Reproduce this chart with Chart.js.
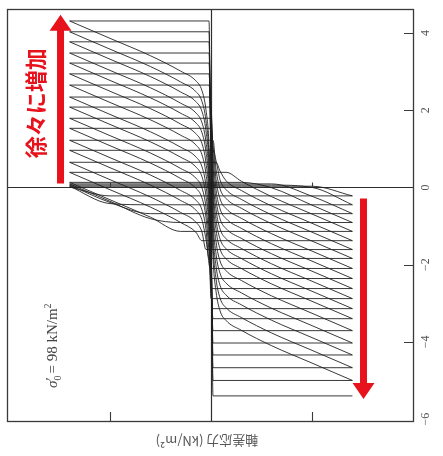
<!DOCTYPE html>
<html>
<head>
<meta charset="utf-8">
<script src="https://cdn.jsdelivr.net/npm/chart.js@4.4.1/dist/chart.umd.min.js"></script>
<style>
  html, body { margin: 0; padding: 0; background: #fff; }
</style>
</head>
<body>
<canvas id="c" width="443" height="456"></canvas>
<script>
// strain (%) at each stress reversal
const LEFT_PEAKS = [0.01, 0.03, 0.06, 0.09, 0.13, 0.39, 0.65, 0.96, 1.22, 1.53, 1.79, 2.08, 2.34, 2.65, 2.94, 3.22, 3.48, 3.77, 4.03, 4.31];
const RIGHT_PEAKS = [-0.22, -0.45, -0.68, -0.91, -1.14, -1.38, -1.61, -1.84, -2.1, -2.36, -2.62, -2.88, -3.14, -3.4, -3.71, -4.03, -4.34, -4.67, -5.0, -5.4];
const STRESS_AMP = 1.4;
// how far the strain has run after a reversal, vs distance travelled in stress
const SOFT_DQ = [0, 0.4, 0.8, 1.1, 1.25, 1.31, 1.35, 1.38, 1.40, 1.42];
const SOFT_DEPS = [0, 0.45, 0.9, 1.3, 1.55, 1.8, 2.3, 3.2, 5, 10];
const X_TICKS = [-1, 0, 1];
const Y_TICKS = [4, 2, 0, -2, -4, -6];

const LINE = 'rgba(30,30,30,0.88)';

function loadBranch(top, bottom) {
  const pts = SOFT_DQ.map((dq, k) => ({ x: -STRESS_AMP + dq, y: Math.max(top - SOFT_DEPS[k], bottom) }));
  pts.push({ x: STRESS_AMP, y: bottom });
  return pts;
}
function unloadBranch(bottom, top) {
  const pts = SOFT_DQ.map((dq, k) => ({ x: STRESS_AMP - dq, y: Math.min(bottom + SOFT_DEPS[k], top) }));
  pts.push({ x: -STRESS_AMP, y: top });
  return pts.reverse();
}

const datasets = [];
LEFT_PEAKS.forEach((a, i) => {
  const b = RIGHT_PEAKS[i];
  datasets.push({ data: loadBranch(a, b) });
  if (i + 1 < LEFT_PEAKS.length) datasets.push({ data: unloadBranch(b, LEFT_PEAKS[i + 1]) });
});
datasets.forEach(d => Object.assign(d, {
  borderColor: LINE, borderWidth: 1, pointRadius: 0, fill: false,
  cubicInterpolationMode: 'monotone'
}));

function fmt(v) { return v < 0 ? '\u2212' + Math.abs(v) : String(v); }

function arrow(ctx, x, y0, y1) {
  const dir = y1 < y0 ? -1 : 1;
  const head = 16, hw = 11, sw = 3.5;
  ctx.beginPath();
  ctx.moveTo(x - sw, y0);
  ctx.lineTo(x + sw, y0);
  ctx.lineTo(x + sw, y1 - dir * head);
  ctx.lineTo(x + hw, y1 - dir * head);
  ctx.lineTo(x, y1);
  ctx.lineTo(x - hw, y1 - dir * head);
  ctx.lineTo(x - sw, y1 - dir * head);
  ctx.closePath();
  ctx.fill();
}

const decor = {
  id: 'decor',
  beforeDatasetsDraw(chart) {
    const { ctx, chartArea: a, scales: { x, y } } = chart;
    const x0 = Math.round(x.getPixelForValue(0)) + 0.5;
    const y0 = Math.round(y.getPixelForValue(0)) + 0.5;
    ctx.save();
    ctx.strokeStyle = '#2e2e2e';
    ctx.lineWidth = 1.2;
    ctx.beginPath();
    ctx.moveTo(a.left, y0); ctx.lineTo(a.right, y0);
    ctx.moveTo(x0, a.top); ctx.lineTo(x0, a.bottom);
    ctx.stroke();
    ctx.restore();
  },
  afterDatasetsDraw(chart) {
    const { ctx, chartArea: a, scales: { x, y } } = chart;
    ctx.save();
    // frame
    ctx.strokeStyle = '#3a3a3a';
    ctx.lineWidth = 1.3;
    ctx.strokeRect(a.left + 0.5, a.top + 0.5, a.right - a.left, a.bottom - a.top);

    // inward ticks
    ctx.lineWidth = 1.1;
    ctx.beginPath();
    Y_TICKS.forEach(v => {
      if (v === 0 || v === -6) return;
      const py = Math.round(y.getPixelForValue(v)) + 0.5;
      ctx.moveTo(a.right - 9, py); ctx.lineTo(a.right, py);
    });
    const y0 = y.getPixelForValue(0);
    X_TICKS.forEach(v => {
      if (v === 0) return;
      const px = Math.round(x.getPixelForValue(v)) + 0.5;
      ctx.moveTo(px, a.bottom - 9); ctx.lineTo(px, a.bottom);
      ctx.moveTo(px, y0 - 5); ctx.lineTo(px, y0);
    });
    ctx.stroke();

    // tick labels, turned on their side
    ctx.fillStyle = '#555';
    ctx.font = '12px "Liberation Serif"';
    ctx.textAlign = 'center';
    ctx.textBaseline = 'middle';
    Y_TICKS.forEach(v => {
      ctx.save();
      ctx.translate(a.right + 13, y.getPixelForValue(v));
      ctx.rotate(-Math.PI / 2);
      ctx.fillText(fmt(v), 0, 0);
      ctx.restore();
    });

    // axis title, upside down
    ctx.save();
    ctx.translate(x.getPixelForValue(-0.04), a.bottom + 20);
    ctx.rotate(Math.PI);
    ctx.fillStyle = '#555';
    ctx.font = '13px "Noto Sans CJK JP"';
    ctx.fillText('軸差応力 (kN/m²)', 0, 0);
    ctx.restore();

    // confining pressure note
    ctx.save();
    ctx.translate(x.getPixelForValue(-1.57), y.getPixelForValue(-4.1));
    ctx.rotate(-Math.PI / 2);
    ctx.fillStyle = '#444';
    ctx.textAlign = 'left';
    ctx.textBaseline = 'alphabetic';
    const big = '15px "Liberation Serif"', small = '10px "Liberation Serif"';
    const parts = [
      { t: 'σ', f: 'italic ' + big, dy: 0 },
      { t: '0', f: small, dy: 4, keep: true },
      { t: '′', f: big, dy: -1 },
      { t: ' = 98 kN/m', f: big, dy: 0 },
      { t: '2', f: small, dy: -6 }
    ];
    let w = 0;
    parts.forEach(p => { ctx.font = p.f; p.w = ctx.measureText(p.t).width; if (!p.keep) w += p.w; });
    let cx = -w / 2;
    parts.forEach(p => {
      ctx.font = p.f;
      ctx.fillText(p.t, cx, 5 + p.dy);
      if (!p.keep) cx += p.w;
    });
    ctx.restore();

    // red annotations
    ctx.fillStyle = '#e8121c';
    arrow(ctx, x.getPixelForValue(-1.49), y.getPixelForValue(0.1), y.getPixelForValue(4.47));
    arrow(ctx, x.getPixelForValue(1.51), y.getPixelForValue(-0.29), y.getPixelForValue(-5.48));
    ctx.save();
    ctx.translate(x.getPixelForValue(-1.74), y.getPixelForValue(2.18));
    ctx.rotate(-Math.PI / 2);
    ctx.font = 'bold 22px "Noto Sans CJK JP"';
    ctx.textAlign = 'center';
    ctx.textBaseline = 'middle';
    ctx.fillText('徐々に増加', 0, 0);
    ctx.restore();

    ctx.restore();
  }
};

new Chart(document.getElementById('c'), {
  type: 'line',
  data: { datasets },
  options: {
    responsive: false,
    animation: false,
    layout: { padding: { left: 7, top: 9, right: 30, bottom: 35 } },
    plugins: { legend: { display: false }, tooltip: { enabled: false } },
    scales: {
      x: { type: 'linear', min: -2.02, max: 2.0, display: false },
      y: { type: 'linear', min: -6.05, max: 4.62, display: false }
    }
  },
  plugins: [decor]
});
</script>
</body>
</html>
